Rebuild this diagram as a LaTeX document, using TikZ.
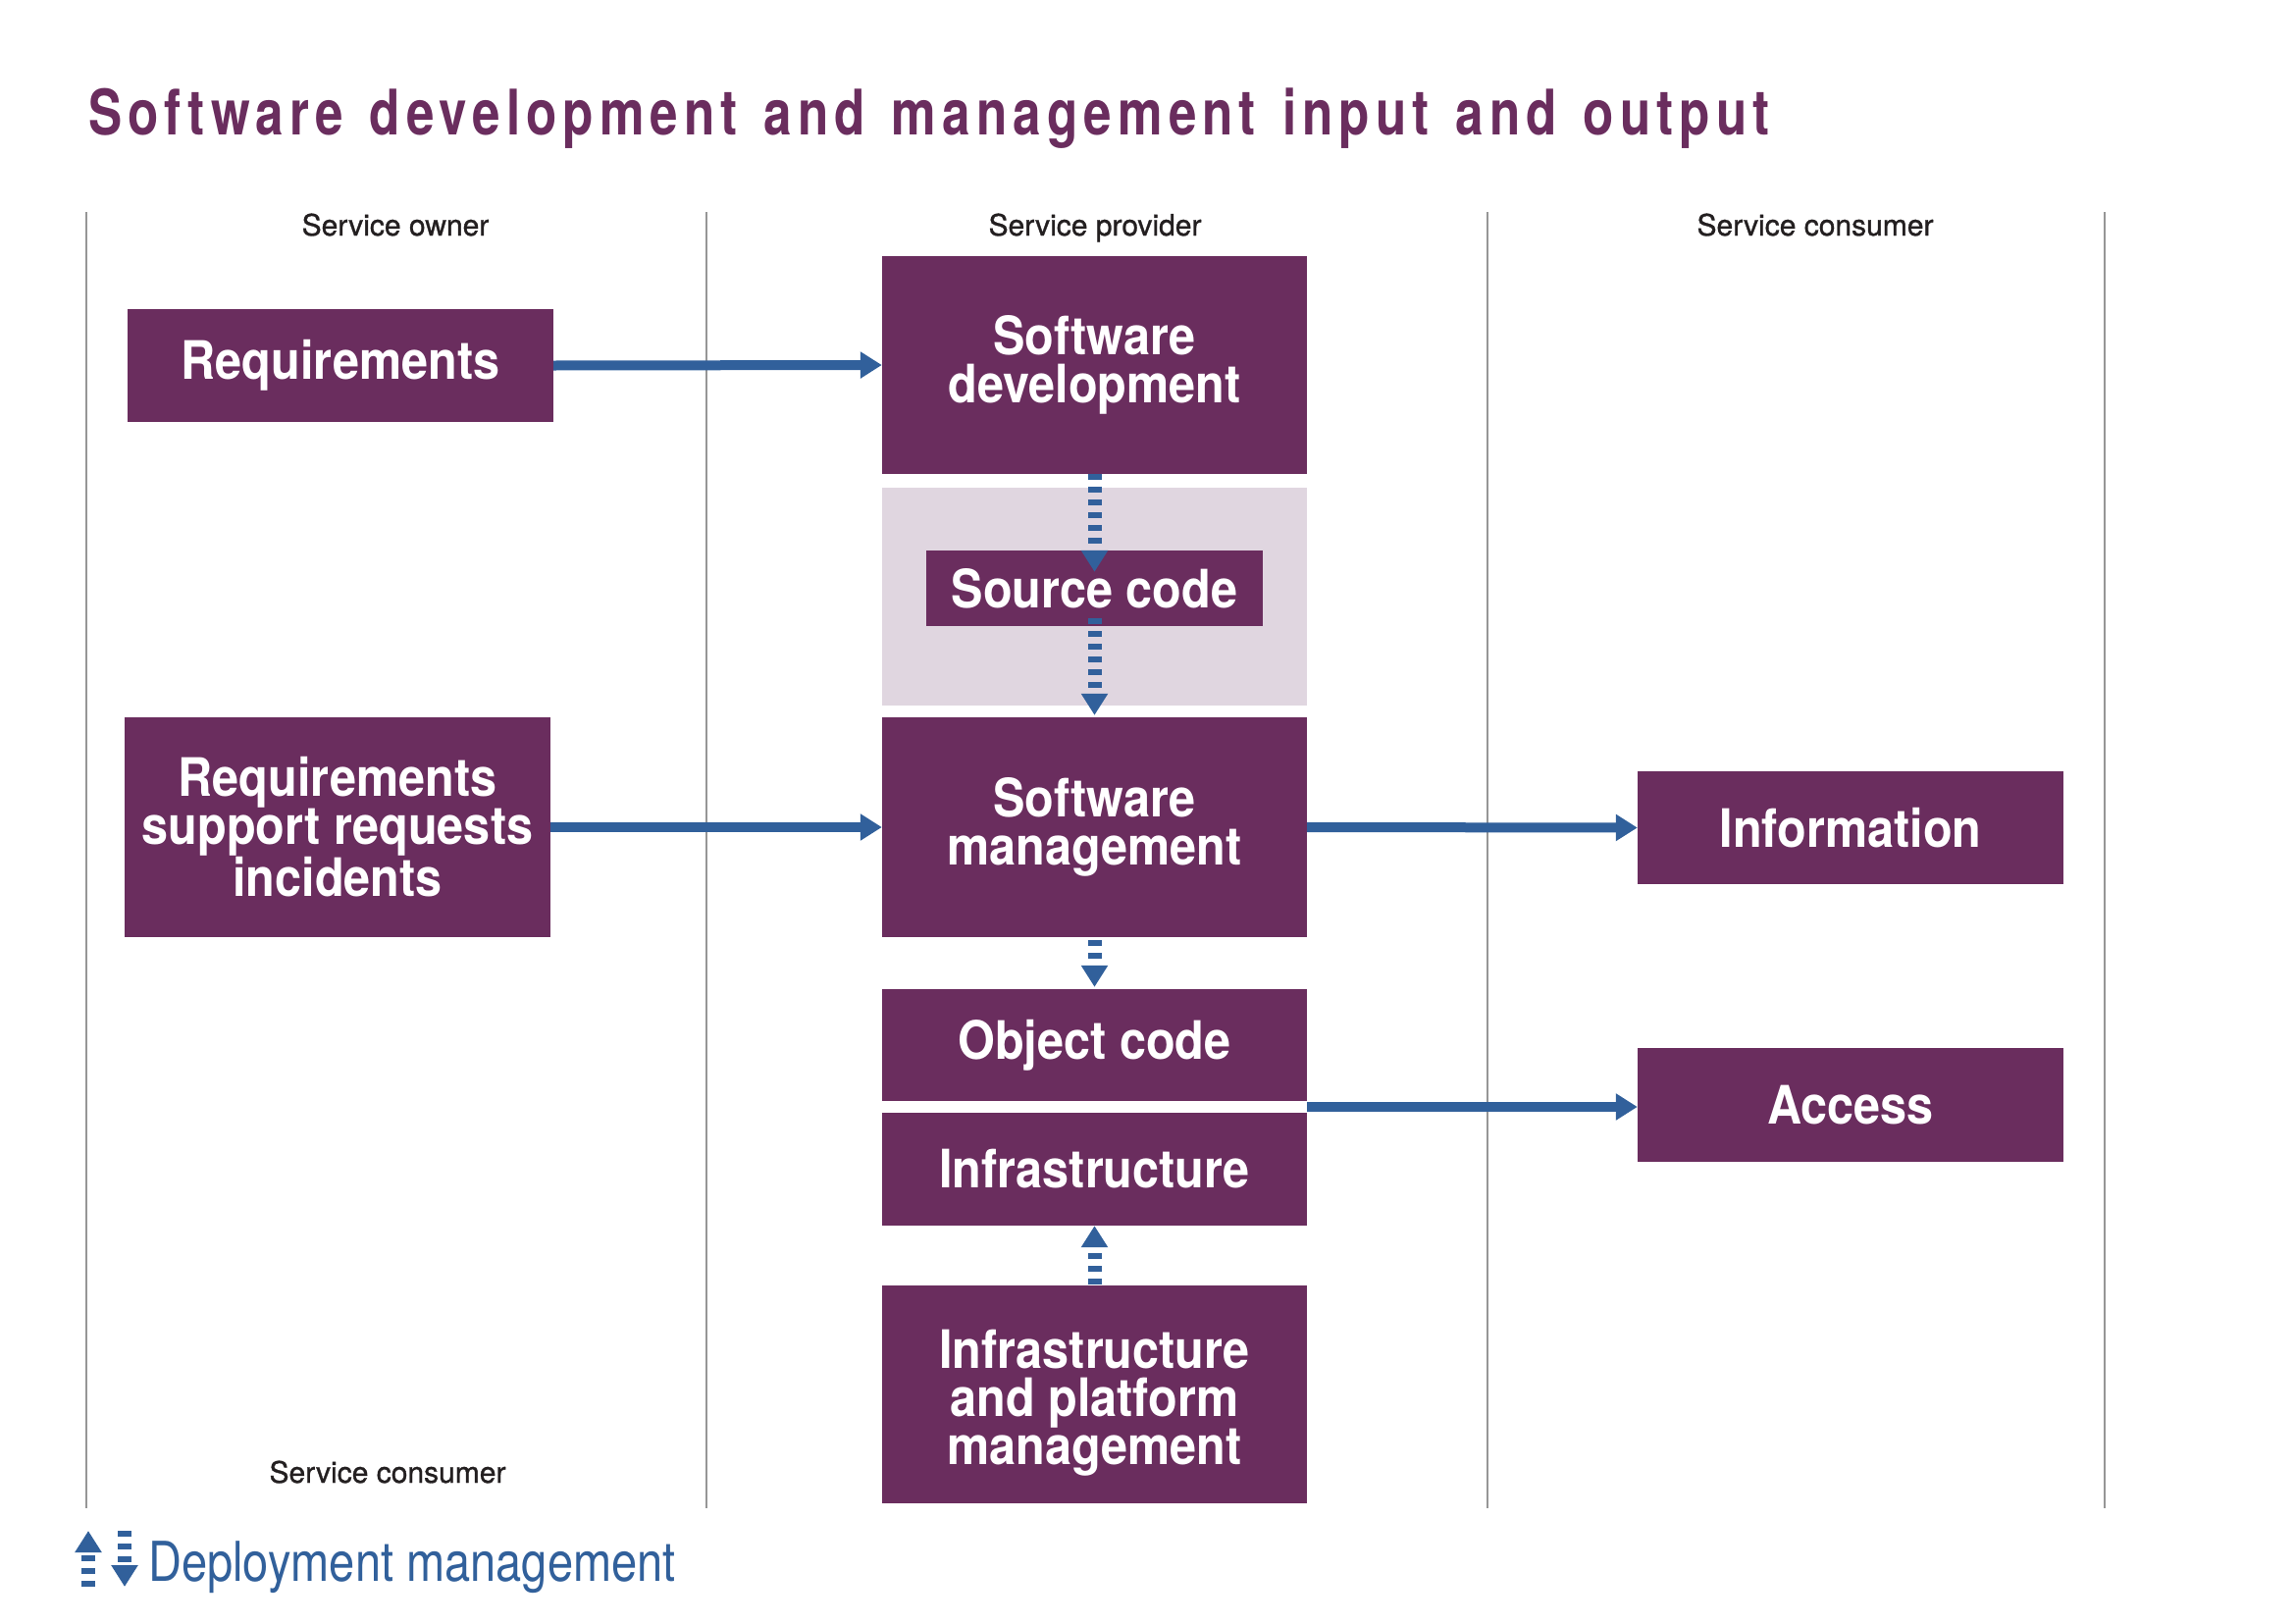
\documentclass[tikz,border=0pt]{standalone}
\usepackage{fontspec}
\setmainfont{TeX Gyre Heros}
\newfontfamily\titlefont{TeX Gyre Heros}[FakeStretch=0.8, LetterSpace=9.5]
\newfontfamily\boxfont{TeX Gyre Heros}[FakeStretch=0.9]
\newfontfamily\legfont{TeX Gyre Heros}[FakeStretch=0.84]
\newfontfamily\hdrfont{TeX Gyre Heros}[FakeBold=1]
\usetikzlibrary{arrows.meta,calc}
\definecolor{plum}{RGB}{106,45,94}
\definecolor{lilac}{RGB}{224,214,224}
\definecolor{flowblue}{RGB}{49,96,155}
\definecolor{rulegrey}{RGB}{150,150,150}
\definecolor{hdrgrey}{RGB}{35,31,32}
\begin{document}
\begin{tikzpicture}[x=1pt,y=-1pt,
  box/.style={fill=plum, text=white, inner sep=0pt, align=center,
    minimum width=434pt, font=\boxfont\bfseries\fontsize{54}{49}\selectfont},
  boxtext/.style={text=white, inner sep=0pt, align=center,
    font=\boxfont\bfseries\fontsize{54}{49}\selectfont},
  hdr/.style={text=hdrgrey, inner sep=0pt, anchor=base, font=\hdrfont\fontsize{30}{36}\selectfont},
  flow/.style={draw=flowblue, line width=10pt, -{Triangle[length=22pt,width=26pt]}},
  dflow/.style={draw=flowblue, line width=14pt, dash pattern=on 6pt off 7pt,
    -{Triangle[length=22pt,width=26pt]}},
  rule/.style={draw=rulegrey, line width=2pt}]
\useasboundingbox (0,0) rectangle (2339,1654);

% title
\node[anchor=base west, inner sep=0pt, text=plum,
  font=\titlefont\bfseries\fontsize{64}{70}\selectfont] (title) at (90,137)
  {\spaceskip=27pt\relax Software development and management input and output};

% lane rules
\draw[rule] (88,216) -- (88,1537);
\draw[rule] (720,216) -- (720,1537);
\draw[rule] (1516,216) -- (1516,1537);
\draw[rule] (2145,216) -- (2145,1537);

% lane headers
\node[hdr] (hOwner) at (403,240) {Service owner};
\node[hdr] (hProv) at (1116,240) {Service provider};
\node[hdr] (hCons) at (1850,240) {Service consumer};
\node[hdr] (hCons2) at (395,1511) {Service consumer};

% band
\node[fill=lilac, inner sep=0pt, minimum width=433pt, minimum height=222pt] (band) at (1115.5,608) {};

% boxes
\node[box, minimum height=115pt] (req) at (347,372.5) {Requirements};
\node[box, minimum width=433pt, minimum height=222pt] (sd) at (1115.5,372) {Software\\development};
\node[box, minimum width=343pt, minimum height=77pt] (src) at (1115.5,599.5) {Source code};
\node[box, minimum width=433pt, minimum height=224pt] (sm) at (1115.5,843) {Software\\management};
\node[box, minimum height=224pt] (req2) at (344,843) {Requirements\\support requests\\incidents};
\node[box, minimum height=115pt] (info) at (1886,843.5) {Information};
\node[box, minimum width=433pt, minimum height=114pt] (oc) at (1115.5,1065) {Object code};
\node[box, minimum width=433pt, minimum height=115pt] (infra) at (1115.5,1191.5) {Infrastructure};
\node[box, minimum height=116pt] (access) at (1886,1126) {Access};
\node[box, minimum width=433pt, minimum height=222pt] (ipm) at (1115.5,1421) {};
\node[boxtext] (ipmtext) at ($(ipm.center)+(0,9)$) {Infrastructure\\and platform\\management};

% connectors
\draw[flow] (req.east) -- (sd.west);
\draw[flow] (req2.east) -- (sm.west);
\draw[flow] (sm.east) -- (info.west);
\coordinate (ocinfra) at ($(oc.south east)!0.5!(infra.north east)$);
\draw[flow] (ocinfra) -- (access.west |- ocinfra);

\draw[dflow, shorten >=-22pt] (sd.south) -- (src.north);
\draw[dflow, shorten <=-8pt, shorten >=2pt] (src.south) -- (sm.north);
\draw[dflow, shorten <=3pt, shorten >=2pt] (sm.south) -- (oc.north);
\draw[dflow, shorten <=1pt] (ipm.north) -- (infra.south);

% legend
\coordinate (lupA) at (90,1617);
\coordinate (lupB) at (90,1560);
\coordinate (ldnA) at (127,1560);
\coordinate (ldnB) at (127,1617);
\draw[dflow] (lupA) -- (lupB);
\draw[dflow] (ldnA) -- (ldnB);
\node[anchor=base west, inner sep=0pt, text=flowblue,
  font=\legfont\fontsize{56}{60}\selectfont] (legend) at (151,1611) {Deployment management};
\end{tikzpicture}
\end{document}
